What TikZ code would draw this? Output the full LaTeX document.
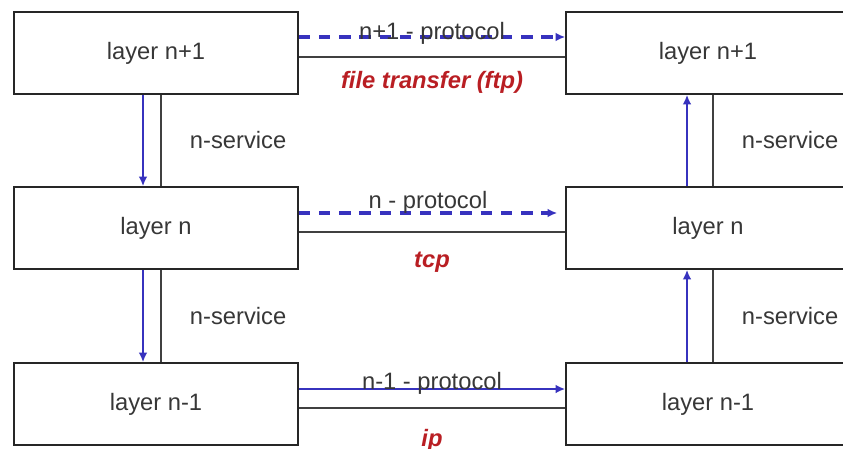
\documentclass[tikz,border=0pt]{standalone}
\usepackage{fontspec}
\setmainfont{Liberation Sans}
\usetikzlibrary{arrows.meta,positioning}

\definecolor{protoblue}{RGB}{55,50,190}
\definecolor{appred}{RGB}{185,30,35}
\definecolor{txtgray}{RGB}{55,55,55}

\tikzset{
  layerbox/.style={draw=black!85, line width=0.9pt, minimum width=5.68cm, minimum height=1.64cm, inner sep=0pt, text=txtgray},
  proto/.style={protoblue, line width=1.3pt, -{Latex[length=5.5pt,width=5pt]}},
  peerdash/.style={proto, line width=1.8pt, dash pattern=on 6.5pt off 5pt},
  link/.style={draw=black!75, line width=0.7pt},
  lbl/.style={text=txtgray},
  app/.style={text=appred, font=\fontsize{13.5}{16}\selectfont\bfseries\itshape}
}

\begin{document}
\begin{tikzpicture}[font=\fontsize{13.5}{16}\selectfont]
      \useasboundingbox (0,0) rectangle (16.86,-8.98);
      \clip (0,0) rectangle (16.86,-8.98);
      % left stack
      \node[layerbox] at (3.12, -1.06)  (L1) {layer n+1};
      \node[layerbox] at (3.12, -4.56)  (L2) {layer n};
      \node[layerbox] at (3.12, -8.08)  (L3) {layer n-1};
      % right stack
      \node[layerbox] at (14.16, -1.06) (R1) {layer n+1};
      \node[layerbox] at (14.16, -4.56) (R2) {layer n};
      \node[layerbox] at (14.16, -8.08) (R3) {layer n-1};
      % peer protocols
      \path[draw,peerdash] ([yshift=0.32cm]L1.east) -- ([yshift=0.32cm]R1.west)
            node[midway,yshift=0.08cm,lbl] {n+1 - protocol};
      \path[link] ([yshift=-0.08cm]L1.east) -- ([yshift=-0.08cm]R1.west)
            node[midway,yshift=-0.5cm,app] {file transfer (ftp)};
      \path[draw,peerdash] ([yshift=0.30cm]L2.east) -- ([yshift=0.30cm,xshift=-0.16cm]R2.west)
            node[midway,yshift=0.22cm,lbl] {n - protocol};
      \path[link] ([yshift=-0.08cm]L2.east) -- ([yshift=-0.08cm]R2.west)
            node[midway,yshift=-0.6cm,app] {tcp};
      \path[draw,proto] ([yshift=0.30cm]L3.east) -- ([yshift=0.30cm]R3.west)
            node[midway,yshift=0.12cm,lbl] {n-1 - protocol};
      \path[link] ([yshift=-0.08cm]L3.east) -- ([yshift=-0.08cm]R3.west)
            node[midway,yshift=-0.64cm,app] {ip};
      % services, left side going down
      \path[draw,proto] ([xshift=-0.26cm]L1.south) -- ([xshift=-0.26cm]L2.north);
      \path[link] ([xshift=0.1cm]L1.south) -- ([xshift=0.1cm]L2.north)
            node[midway,right=0.45cm,lbl] (sL1) {n-service};
      \path[draw,proto] ([xshift=-0.26cm]L2.south) -- ([xshift=-0.26cm]L3.north);
      \path[link] ([xshift=0.1cm]L2.south) -- ([xshift=0.1cm]L3.north)
            node[midway,right=0.45cm,lbl] (sL2) {n-service};
      % services, right side going up
      \path[draw,proto] ([xshift=-0.42cm]R2.north) -- ([xshift=-0.42cm]R1.south);
      \path[link] ([xshift=0.1cm]R2.north) -- ([xshift=0.1cm]R1.south)
            node[midway,right=0.45cm,lbl] (sR1) {n-service};
      \path[draw,proto] ([xshift=-0.42cm]R3.north) -- ([xshift=-0.42cm]R2.south);
      \path[link] ([xshift=0.1cm]R3.north) -- ([xshift=0.1cm]R2.south)
            node[midway,right=0.45cm,lbl] (sR2) {n-service};
    \end{tikzpicture}
\end{document}
